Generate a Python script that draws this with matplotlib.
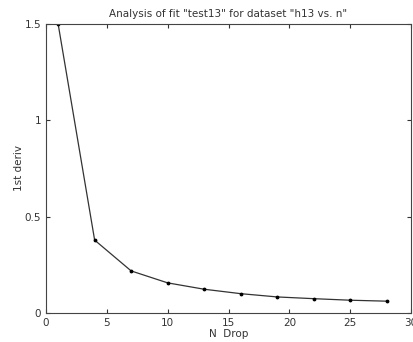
import numpy as np
from matplotlib import pyplot as plt

n_drop = [1, 4, 7, 10, 13, 16, 19, 22, 25, 28]
deriv = [1.5, 0.378, 0.218, 0.156, 0.123, 0.100, 0.083, 0.074, 0.066, 0.061]

fig = plt.figure(figsize=(4.14, 3.42), dpi=100)
ax = fig.add_axes([0.111, 0.085, 0.882, 0.845])
ax.plot(n_drop, deriv, color='#333333', lw=0.9, marker='.', ms=3.5, mfc='black', mec='black')
ax.set_xlim(0, 30)
ax.set_ylim(0, 1.5)
ax.set_xticks([0, 5, 10, 15, 20, 25, 30])
ax.set_yticks([0, 0.5, 1, 1.5])
ax.set_yticklabels(['0', '0.5', '1', '1.5'])
ax.tick_params(direction='in', top=True, right=True, labelsize=7.5, length=3, colors='#333333')
for s in ax.spines.values():
    s.set_color('#444444')
    s.set_linewidth(0.8)
ax.set_xlabel('N  Drop', fontsize=7.5, color='#333333', labelpad=1)
ax.set_ylabel('1st deriv', fontsize=7.5, color='#333333', labelpad=0)
ax.set_title('Analysis of fit "test13" for dataset "h13 vs. n"', fontsize=7.5, color='#333333', pad=5)
fig.savefig('out.png', dpi=100)
